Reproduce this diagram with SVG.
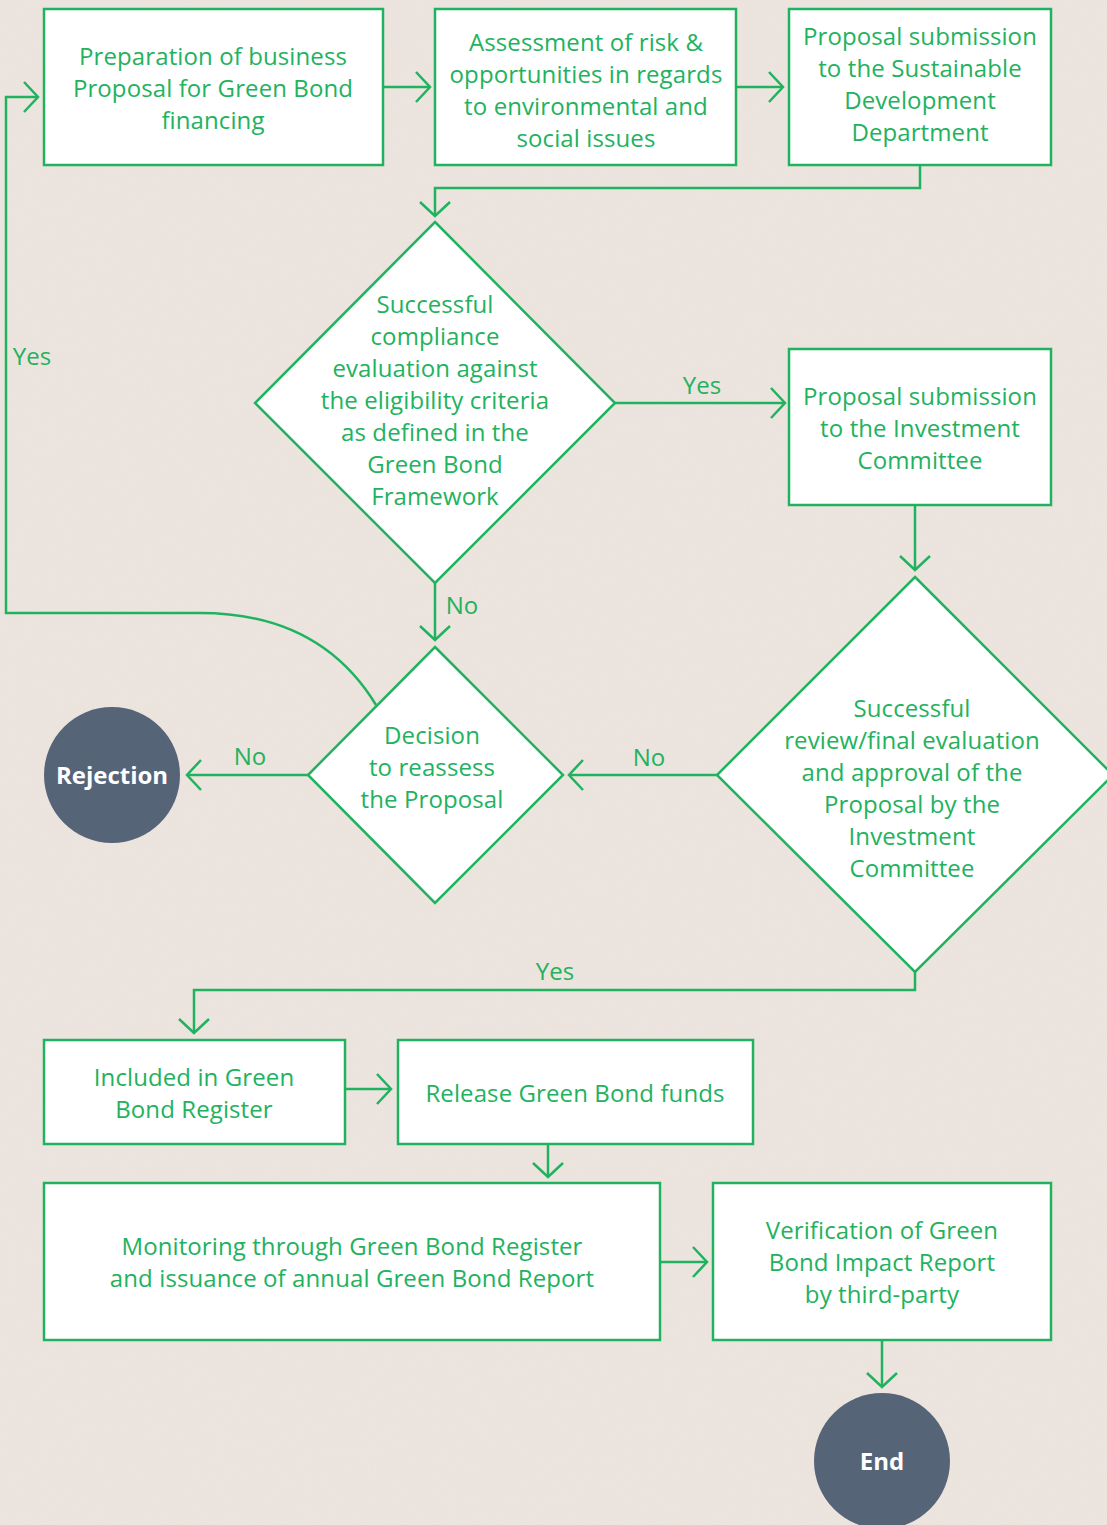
<svg xmlns="http://www.w3.org/2000/svg" width="1107" height="1525" viewBox="0 0 1107 1525">
<defs>
<style>
.box{fill:#ffffff;stroke:#20b35f;stroke-width:2.5}
.con{fill:none;stroke:#20b35f;stroke-width:2.5}
.t{font-family:"Open Sans","Liberation Sans",sans-serif;font-size:24px;letter-spacing:0.1px;fill:#22b25e;text-anchor:middle}
.lbl{font-family:"Open Sans","Liberation Sans",sans-serif;font-size:24px;letter-spacing:0.1px;fill:#22b25e;text-anchor:middle}
.ct{font-family:"Open Sans","Liberation Sans",sans-serif;font-size:24px;font-weight:700;fill:#ffffff;text-anchor:middle}
.circ{fill:#566478}
</style>
<marker id="ah" markerUnits="userSpaceOnUse" markerWidth="30" markerHeight="34" refX="15" refY="16" orient="auto" viewBox="0 0 30 34">
<path d="M1,1 L15,16 L1,31" fill="none" stroke="#20b35f" stroke-width="2.5"/>
</marker>
<filter id="noise" x="0" y="0" width="100%" height="100%">
<feTurbulence type="fractalNoise" baseFrequency="0.9" numOctaves="2" seed="3" result="n"/>
<feColorMatrix type="matrix" values="0 0 0 0 0.55  0 0 0 0 0.5  0 0 0 0 0.45  0 0 0 0.18 0" in="n"/>
</filter>
</defs>
<rect x="0" y="0" width="1107" height="1525" fill="#eee6e0"/>
<rect x="0" y="0" width="1107" height="1525" filter="url(#noise)" opacity="0.6"/>

<g id="connectors">
<path class="con" d="M383,87 L430,87" marker-end="url(#ah)"/>
<path class="con" d="M736,87 L783,87" marker-end="url(#ah)"/>
<path class="con" d="M920,165 L920,188 L435,188 L435,216" marker-end="url(#ah)"/>
<path class="con" d="M615,403 L785,403" marker-end="url(#ah)"/>
<path class="con" d="M915,505 L915,570" marker-end="url(#ah)"/>
<path class="con" d="M435,583 L435,640" marker-end="url(#ah)"/>
<path class="con" d="M717,775 L569,775" marker-end="url(#ah)"/>
<path class="con" d="M308,775 L187,775" marker-end="url(#ah)"/>
<path class="con" d="M376,705 Q320,613 200,613 L6,613 L6,97 L38,97" marker-end="url(#ah)"/>
<path class="con" d="M915,972 L915,990 L194,990 L194,1033" marker-end="url(#ah)"/>
<path class="con" d="M345,1089 L391,1089" marker-end="url(#ah)"/>
<path class="con" d="M548,1144 L548,1177" marker-end="url(#ah)"/>
<path class="con" d="M660,1262 L707,1262" marker-end="url(#ah)"/>
<path class="con" d="M882,1340 L882,1387" marker-end="url(#ah)"/>
<text class="lbl" x="702" y="394">Yes</text>
<text class="lbl" x="462" y="614">No</text>
<text class="lbl" x="649" y="766">No</text>
<text class="lbl" x="250" y="765">No</text>
<text class="lbl" x="32" y="365">Yes</text>
<text class="lbl" x="555" y="980">Yes</text>
</g>

<g id="n1">
<rect class="box" x="44" y="9" width="339" height="156"/>
<text class="t" x="213" y="65">Preparation of business</text>
<text class="t" x="213" y="97">Proposal for Green Bond</text>
<text class="t" x="213" y="129">financing</text>
</g>
<g id="n2">
<rect class="box" x="435" y="9" width="301" height="156"/>
<text class="t" x="586" y="51">Assessment of risk &amp;</text>
<text class="t" x="586" y="83">opportunities in regards</text>
<text class="t" x="586" y="115">to environmental and</text>
<text class="t" x="586" y="147">social issues</text>
</g>
<g id="n3">
<rect class="box" x="789" y="9" width="262" height="156"/>
<text class="t" x="920" y="45">Proposal submission</text>
<text class="t" x="920" y="77">to the Sustainable</text>
<text class="t" x="920" y="109">Development</text>
<text class="t" x="920" y="141">Department</text>
</g>
<g id="d1">
<polygon class="box" points="435,222 615,403 435,583 255,403"/>
<text class="t" x="435" y="313">Successful</text>
<text class="t" x="435" y="345">compliance</text>
<text class="t" x="435" y="377">evaluation against</text>
<text class="t" x="435" y="409">the eligibility criteria</text>
<text class="t" x="435" y="441">as defined in the</text>
<text class="t" x="435" y="473">Green Bond</text>
<text class="t" x="435" y="505">Framework</text>
</g>
<g id="n4">
<rect class="box" x="789" y="349" width="262" height="156"/>
<text class="t" x="920" y="405">Proposal submission</text>
<text class="t" x="920" y="437">to the Investment</text>
<text class="t" x="920" y="469">Committee</text>
</g>
<g id="d2">
<polygon class="box" points="915,577 1113,775 915,972 717,775"/>
<text class="t" x="912" y="717">Successful</text>
<text class="t" x="912" y="749">review/final evaluation</text>
<text class="t" x="912" y="781">and approval of the</text>
<text class="t" x="912" y="813">Proposal by the</text>
<text class="t" x="912" y="845">Investment</text>
<text class="t" x="912" y="877">Committee</text>
</g>
<g id="d3">
<polygon class="box" points="435,647 563,775 435,903 308,775"/>
<text class="t" x="432" y="744">Decision</text>
<text class="t" x="432" y="776">to reassess</text>
<text class="t" x="432" y="808">the Proposal</text>
</g>
<g id="rejection">
<circle class="circ" cx="112" cy="775" r="68"/>
<text class="ct" x="112" y="784">Rejection</text>
</g>
<g id="n5">
<rect class="box" x="44" y="1040" width="301" height="104"/>
<text class="t" x="194" y="1086">Included in Green</text>
<text class="t" x="194" y="1118">Bond Register</text>
</g>
<g id="n6">
<rect class="box" x="398" y="1040" width="355" height="104"/>
<text class="t" x="575" y="1102">Release Green Bond funds</text>
</g>
<g id="n7">
<rect class="box" x="44" y="1183" width="616" height="157"/>
<text class="t" x="352" y="1255">Monitoring through Green Bond Register</text>
<text class="t" x="352" y="1287">and issuance of annual Green Bond Report</text>
</g>
<g id="n8">
<rect class="box" x="713" y="1183" width="338" height="157"/>
<text class="t" x="882" y="1239">Verification of Green</text>
<text class="t" x="882" y="1271">Bond Impact Report</text>
<text class="t" x="882" y="1303">by third-party</text>
</g>
<g id="end">
<circle class="circ" cx="882" cy="1461" r="68"/>
<text class="ct" x="882" y="1470">End</text>
</g>
</svg>
